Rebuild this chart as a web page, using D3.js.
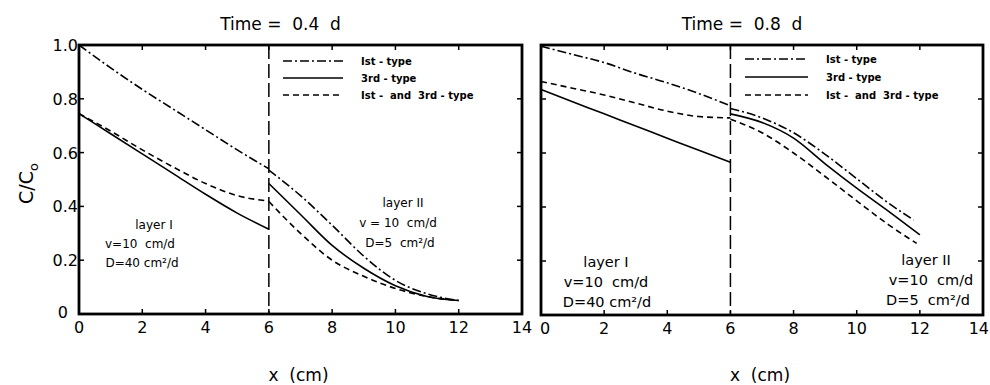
<!DOCTYPE html>
<html>
<head>
<meta charset="utf-8">
<script src="https://cdn.jsdelivr.net/npm/d3@7"></script>
<style>
  body { margin: 0; background: #fff; }
  svg { display: block; }
  text { font-family: "DejaVu Sans", sans-serif; fill: #000; white-space: pre; }
  .frame { fill: none; stroke: #000; stroke-width: 2.8; }
  .curve { fill: none; stroke: #000; stroke-width: 1.6; }
</style>
</head>
<body>
<svg id="chart" width="990" height="385"></svg>
<script>
// tick values
const X_TICKS = [0, 2, 4, 6, 8, 10, 12, 14];
const Y_TICKS = [0, 0.2, 0.4, 0.6, 0.8, 1.0];
const Y_LABELS = ["0", "0.2", "0.4", "0.6", "0.8", "1.0"];
const INTERFACE = 6;

// layer I / layer II x positions (cm)
const xLayer1 = [0, 1, 2, 3, 4, 5, 6];
const xLayer2 = [6, 7, 8, 9, 10, 11, 12];
const xLayer2Short = [6, 7, 8, 9, 10, 11, 11.8];
const xLayer2Mid = [6, 7, 8, 9, 10, 11, 11.9];

// Time = 0.4 d
const t04_first1 = [1.0, 0.915, 0.835, 0.76, 0.685, 0.61, 0.54];
const t04_first2 = [0.535, 0.44, 0.33, 0.215, 0.125, 0.075, 0.05];
const t04_third1 = [0.745, 0.67, 0.595, 0.52, 0.445, 0.375, 0.315];
const t04_third2 = [0.485, 0.37, 0.255, 0.17, 0.105, 0.065, 0.05];
const t04_both1 = [0.745, 0.68, 0.61, 0.545, 0.485, 0.44, 0.42];
const t04_both2 = [0.418, 0.3, 0.2, 0.14, 0.095, 0.065, 0.05];

// Time = 0.8 d
const t08_first1 = [0.995, 0.965, 0.935, 0.895, 0.86, 0.82, 0.775];
const t08_first2 = [0.765, 0.73, 0.675, 0.595, 0.505, 0.415, 0.352];
const t08_third1 = [0.835, 0.79, 0.745, 0.70, 0.655, 0.61, 0.566];
const t08_third2 = [0.745, 0.713, 0.655, 0.56, 0.47, 0.385, 0.297];
const t08_both1 = [0.865, 0.84, 0.815, 0.785, 0.755, 0.735, 0.73];
const t08_both2 = [0.725, 0.675, 0.6, 0.513, 0.423, 0.335, 0.265];

const legendNames = ["Ist - type", "3rd - type", "Ist -  and  3rd - type"];
const dashes = ["9,3,2,3", null, "6,4"];

var svg = d3.select("#chart");

var panels = [
  {title: "Time =  0.4  d", left: 79, right: 522, top: 45, bottom: 314, yLabels: true,
   series: [[t04_first1, t04_first2, xLayer2], [t04_third1, t04_third2, xLayer2], [t04_both1, t04_both2, xLayer2]],
   legend: {x: 283, y: 61, gap: 17, len: 60},
   notes: [
     {xs: [154, 140, 142], y: 229, lines: ["layer I", "v=10  cm/d", "D=40 cm²/d"], gap: 19, font: 12},
     {xs: [403, 398, 400], y: 207, lines: ["layer II", "v = 10  cm/d", "D=5  cm²/d"], gap: 20, font: 12}
   ]},
  {title: "Time =  0.8  d", left: 541, right: 983, top: 45, bottom: 315, yLabels: false,
   series: [[t08_first1, t08_first2, xLayer2Short], [t08_third1, t08_third2, xLayer2], [t08_both1, t08_both2, xLayer2Mid]],
   legend: {x: 745, y: 59, gap: 18, len: 63},
   notes: [
     {xs: [606, 606, 607], y: 267, lines: ["layer I", "v=10  cm/d", "D=40 cm²/d"], gap: 20, font: 14.5},
     {xs: [926, 931, 928], y: 265, lines: ["layer II", "v=10  cm/d", "D=5  cm²/d"], gap: 20, font: 14.5}
   ]}
];

panels.forEach(function(p) {
  var x = d3.scaleLinear().domain([0, 14]).range([p.left, p.right]);
  var y = d3.scaleLinear().domain([0, 1]).range([p.bottom, p.top]);
  var g = svg.append("g");

  // title
  g.append("text")
    .attr("x", (p.left + p.right) / 2 - 20)
    .attr("y", 30)
    .attr("text-anchor", "middle")
    .style("font-size", "17px")
    .text(p.title);

  // inward ticks on all four sides
  var ins = 5;
  g.selectAll(".xt").data(X_TICKS.slice(1, -1)).enter().append("line")
    .attr("x1", d => x(d)).attr("x2", d => x(d))
    .attr("y1", p.bottom).attr("y2", p.bottom - ins)
    .attr("stroke", "#000").attr("stroke-width", 1.5);
  g.selectAll(".xt2").data(X_TICKS.slice(1, -1)).enter().append("line")
    .attr("x1", d => x(d)).attr("x2", d => x(d))
    .attr("y1", p.top).attr("y2", p.top + ins)
    .attr("stroke", "#000").attr("stroke-width", 1.5);
  g.selectAll(".yt").data(Y_TICKS.slice(1, -1)).enter().append("line")
    .attr("x1", p.left).attr("x2", p.left + ins)
    .attr("y1", d => y(d)).attr("y2", d => y(d))
    .attr("stroke", "#000").attr("stroke-width", 1.5);
  g.selectAll(".yt2").data(Y_TICKS.slice(1, -1)).enter().append("line")
    .attr("x1", p.right).attr("x2", p.right - ins)
    .attr("y1", d => y(d)).attr("y2", d => y(d))
    .attr("stroke", "#000").attr("stroke-width", 1.5);

  // frame
  g.append("rect").attr("class", "frame")
    .attr("x", p.left).attr("y", p.top)
    .attr("width", p.right - p.left).attr("height", p.bottom - p.top);

  // x tick labels (last one on the right panel kept inside the window)
  g.selectAll(".xl").data(X_TICKS).enter().append("text")
    .attr("x", function(d) {
      if (!p.yLabels && d == 0) return x(d) + 4;
      if (!p.yLabels && d == 14) return 989;
      return x(d);
    })
    .attr("y", p.bottom + 19)
    .attr("text-anchor", d => (!p.yLabels && d == 14) ? "end" : "middle")
    .style("font-size", "16px")
    .text(d => d);

  if (p.yLabels) {
    g.selectAll(".yl").data(Y_TICKS).enter().append("text")
      .attr("x", d => p.left - (d == 0 ? 11 : 1))
      .attr("y", d => y(d) + (d == 0 ? 4 : 6))
      .attr("text-anchor", "end")
      .style("font-size", "16px")
      .text((d, i) => Y_LABELS[i]);

    var yl = g.append("text")
      .attr("transform", "translate(33," + ((p.top + p.bottom) / 2 + 4) + ") rotate(-90)")
      .attr("text-anchor", "middle")
      .style("font-size", "19px");
    yl.append("tspan").text("C/C");
    yl.append("tspan").attr("dy", 5).style("font-size", "13px").text("o");
  }

  // x axis label
  g.append("text")
    .attr("x", (p.left + p.right) / 2 - 2)
    .attr("y", 381)
    .attr("text-anchor", "middle")
    .style("font-size", "17px")
    .text("x  (cm)");

  // interface between layers
  g.append("line")
    .attr("x1", x(INTERFACE)).attr("x2", x(INTERFACE))
    .attr("y1", p.top).attr("y2", p.bottom)
    .attr("stroke", "#000").attr("stroke-width", 1.5)
    .attr("stroke-dasharray", "14,5");

  // curves
  var line = d3.line().x(d => x(d[0])).y(d => y(d[1])).curve(d3.curveMonotoneX);
  p.series.forEach(function(s, i) {
    [[xLayer1, s[0]], [s[2], s[1]]].forEach(function(pair) {
      var pts = pair[0].map((xv, j) => [xv, pair[1][j]]);
      g.append("path").attr("class", "curve")
        .attr("d", line(pts))
        .attr("stroke-dasharray", dashes[i]);
    });
  });

  // legend
  legendNames.forEach(function(name, i) {
    var ly = p.legend.y + i * p.legend.gap;
    g.append("line")
      .attr("x1", p.legend.x).attr("x2", p.legend.x + p.legend.len)
      .attr("y1", ly).attr("y2", ly)
      .attr("stroke", "#000").attr("stroke-width", 1.6)
      .attr("stroke-dasharray", dashes[i]);
    g.append("text")
      .attr("x", p.legend.x + p.legend.len + 18)
      .attr("y", ly + 4)
      .style("font-size", "10px")
      .style("font-weight", "bold")
      .text(name);
  });

  // layer annotations
  p.notes.forEach(function(n) {
    n.lines.forEach(function(t, k) {
      g.append("text")
        .attr("x", n.xs[k]).attr("y", n.y + k * n.gap)
        .attr("text-anchor", "middle")
        .style("font-size", n.font + "px")
        .text(t);
    });
  });
});
</script>
</body>
</html>
